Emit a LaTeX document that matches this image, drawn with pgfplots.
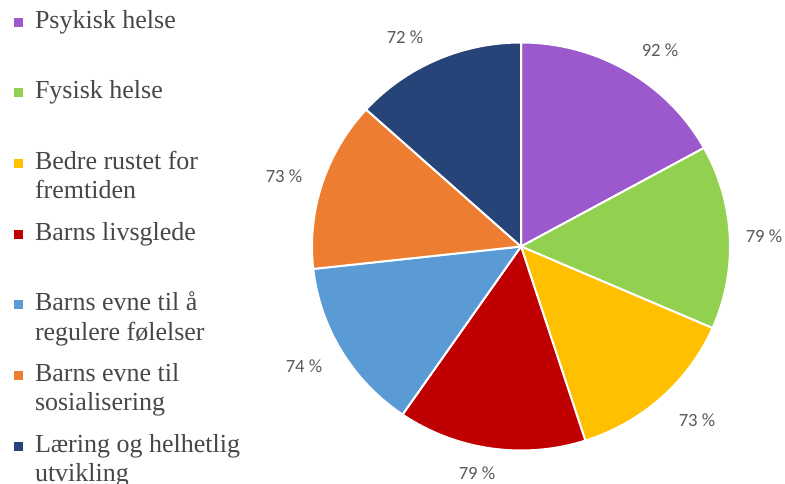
\documentclass[border=0pt]{standalone}
\usepackage{pgfplots}
\pgfplotsset{compat=1.18}
\usepackage{pgfplotstable}
\usepackage{fontspec}
\setmainfont{Liberation Serif}
\newfontfamily\lblfont{Carlito}

\definecolor{c0}{HTML}{9B59CD}
\definecolor{c1}{HTML}{92D050}
\definecolor{c2}{HTML}{FFC000}
\definecolor{c3}{HTML}{C00000}
\definecolor{c4}{HTML}{5B9BD5}
\definecolor{c5}{HTML}{ED7D31}
\definecolor{c6}{HTML}{264478}
\definecolor{txtgray}{HTML}{474747}
\definecolor{lblgray}{HTML}{595959}

% value = share shown in the chart; lx, ly = position of the percentage label
\pgfplotstableread{
idx value lx ly
0 92 660 434
1 79 764 247.5
2 73 697 64
3 79 477 10.5
4 74 304 117.5
5 73 284 307.5
6 72 405 446.5
}\piedata

\newcommand\legfont{\fontsize{19.5}{22.1}\selectfont}
\newcommand\legtext[2]{\parbox[t]{7cm}{\strut#1\\\strut#2}}

\begin{document}
% cumulative angles (clockwise from 12 o'clock)
\gdef\pietotal{0}%
\foreach \i in {0,...,6}{%
  \pgfplotstablegetelem{\i}{value}\of\piedata
  \pgfmathparse{\pietotal+\pgfplotsretval}%
  \xdef\pietotal{\pgfmathresult}%
}%
\gdef\piecum{0}%
\foreach \i in {0,...,6}{%
  \pgfplotstablegetelem{\i}{value}\of\piedata
  \edef\curval{\pgfplotsretval}%
  \pgfmathparse{90-(\piecum/\pietotal)*360}%
  \expandafter\xdef\csname pieS\i\endcsname{\pgfmathresult}%
  \pgfmathparse{\piecum+\curval}%
  \xdef\piecum{\pgfmathresult}%
  \pgfmathparse{90-(\piecum/\pietotal)*360}%
  \expandafter\xdef\csname pieE\i\endcsname{\pgfmathresult}%
}%
\begin{tikzpicture}
\begin{axis}[
  width=588.75pt, height=363pt, scale only axis,
  xmin=0, xmax=785, ymin=0, ymax=484,
  hide axis, clip=false,
  /pgf/number format/assume math mode=true,
  legend entries={
    \legtext{Psykisk helse}{},
    \legtext{Fysisk helse}{},
    \legtext{Bedre rustet for}{fremtiden},
    \legtext{Barns livsglede}{},
    \legtext{Barns evne til å}{regulere følelser},
    \legtext{Barns evne til}{sosialisering},
    \legtext{Læring og helhetlig}{utvikling}},
  legend style={at={(axis cs:13,476.6)}, anchor=north west,
    draw=none, fill=none, inner sep=0pt, outer sep=0pt,
    font=\legfont, row sep=8.8pt, column sep=0pt,
    cells={anchor=base west},
    nodes={inner sep=0pt, outer sep=0pt, text depth=, text=txtgray}},
  legend image code/.code={%
    \fill[#1,draw=none] (0pt,0.9pt) rectangle (6.9pt,7.8pt);
    \path (0pt,0pt) -- (15pt,0pt);},
]
\pgfplotsinvokeforeach{0,...,6}{
  \addplot[fill=c#1, draw=white, line width=1.5pt, line join=round,
    domain=\csname pieE#1\endcsname:\csname pieS#1\endcsname,
    samples=90, variable=\t]
    ({521+209*cos(\t)},{237.5+204*sin(\t)}) -- (axis cs:521,237.5) -- cycle;
}
\addplot[draw=none, mark=none, forget plot, point meta=explicit,
  nodes near coords={\pgfmathprintnumber{\pgfplotspointmeta}\ \%},
  nodes near coords align={center},
  every node near coord/.append style={font=\lblfont\fontsize{14}{16}\selectfont,
    text=lblgray, inner sep=0pt}]
  table[x=lx, y=ly, meta=value] {\piedata};
\end{axis}
\pgfresetboundingbox
\useasboundingbox (current axis.south west) rectangle (current axis.north east);
\end{tikzpicture}
\end{document}
